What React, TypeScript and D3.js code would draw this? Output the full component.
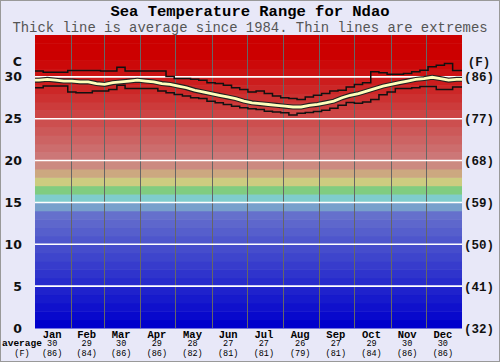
import React, { useEffect, useRef } from 'react';
import * as d3 from 'd3';

// monthly labels and averages
const months = ['Jan', 'Feb', 'Mar', 'Apr', 'May', 'Jun', 'Jul', 'Aug', 'Sep', 'Oct', 'Nov', 'Dec'];
const monthDays = [31, 28, 31, 30, 31, 30, 31, 31, 30, 31, 30, 31];
const monthAvgC = [30, 29, 30, 29, 28, 27, 27, 26, 27, 29, 30, 30];
const monthAvgF = [86, 84, 86, 86, 82, 81, 81, 79, 81, 84, 86, 86];

// weekly values (deg C)
const maxTemps = [
  30.7, 30.55, 30.55, 30.55, 30.75, 30.75, 30.75, 30.75, 30.7, 30.7,
  31.15, 30.7, 30.7, 30.7, 30.7, 30.7, 30.05, 29.8, 29.8, 29.7,
  29.6, 29.3, 29.2, 29.0, 28.7, 28.5, 28.2, 28.3, 28.0, 27.7,
  27.5, 27.4, 27.3, 27.6, 27.8, 28.0, 28.3, 28.4, 28.8, 29.1,
  29.3, 30.6, 30.5, 30.3, 30.3, 30.4, 30.6, 30.8, 31.2, 31.4,
  31.6, 30.75,
];
const avgTemps = [
  29.6, 29.7, 29.6, 29.5, 29.5, 29.4, 29.4, 29.2, 29.1, 29.3,
  29.4, 29.5, 29.6, 29.5, 29.4, 29.2, 29.1, 28.9, 28.7, 28.4,
  28.2, 28.0, 27.8, 27.6, 27.4, 27.1, 26.9, 26.8, 26.7, 26.6,
  26.5, 26.4, 26.4, 26.6, 26.7, 26.9, 27.1, 27.5, 27.8, 28.0,
  28.3, 28.6, 28.9, 29.1, 29.3, 29.5, 29.7, 29.8, 29.95, 29.8,
  29.6, 29.7,
];
const minTemps = [
  28.7, 28.9, 28.9, 28.9, 28.2, 28.1, 28.1, 28.3, 28.3, 28.5,
  29.0, 28.6, 28.6, 28.6, 28.6, 28.3, 28.1, 27.9, 27.7, 27.5,
  27.4, 27.1, 26.9, 26.7, 26.5, 26.3, 26.2, 26.1, 25.9, 25.8,
  25.7, 25.45, 25.65, 25.75, 25.85, 26.0, 26.25, 26.6, 26.95, 26.85,
  27.0, 27.3, 27.85, 28.2, 28.6, 28.6, 28.7, 28.85, 28.85, 28.5,
  28.5, 28.8,
];

const yTicksC = [0, 5, 10, 15, 20, 25, 30];
const yTicksF = ['(32)', '(41)', '(50)', '(59)', '(68)', '(77)', '(86)'];

const W = 500;
const H = 362;
const plot = { left: 35, right: 462, top: 35, bottom: 328 };
const mono = "'Liberation Mono', 'Courier New', monospace";
const sans = "'DejaVu Sans', Verdana, sans-serif";

// colour of the 1-degree band starting at t
const bandColor = (t: number): string => {
  const fixed: Record<number, string> = {
    14: '#78a0cc', 15: '#7fcccc', 16: '#80cc80', 17: '#cccc80', 18: '#cca880', 19: '#cc8a80',
  };
  if (fixed[t]) return fixed[t];
  if (t < 14) return d3.rgb(Math.round(t * 7.8), Math.round(t * 8.6), 204).formatHex();
  const g = Math.max(0, Math.round(119 - (t - 20) * 10));
  return d3.rgb(204, g, g).formatHex();
};

const App: React.FC = () => {
  const svgRef = useRef<SVGSVGElement>(null);

  useEffect(() => {
    const svg = d3.select(svgRef.current);
    svg.selectAll('*').remove();

    const x = d3.scaleLinear().domain([0, 365]).range([plot.left, plot.right]);
    const y = d3.scaleLinear().domain([0, 35]).range([plot.bottom, plot.top]);

    // background + frame
    svg.append('rect').attr('width', W).attr('height', H).attr('fill', '#e8e8f8');
    svg.append('rect')
      .attr('x', 0.5).attr('y', 0.5).attr('width', W - 1).attr('height', H - 1)
      .attr('fill', 'none').attr('stroke', '#999');

    // title
    svg.append('text')
      .attr('x', W / 2).attr('y', 15.5)
      .attr('text-anchor', 'middle')
      .style('font-family', mono).style('font-size', '15.5px').style('font-weight', 'bold')
      .text('Sea Temperature Range for Ndao');
    svg.append('text')
      .attr('x', W / 2).attr('y', 31.5)
      .attr('text-anchor', 'middle')
      .style('font-family', mono).style('font-size', '13.9px').style('fill', '#555')
      .text('Thick line is average since 1984. Thin lines are extremes');

    // colour bands
    const bands = d3.range(0, 35);
    svg.append('g').selectAll('rect')
      .data(bands)
      .enter()
      .append('rect')
      .attr('x', plot.left)
      .attr('width', plot.right - plot.left)
      .attr('y', d => y(d + 1))
      .attr('height', d => y(d) - y(d + 1) + 0.5)
      .attr('fill', d => bandColor(d));

    // month separators
    const bounds = d3.cumsum(monthDays).slice(0, 11);
    svg.append('g').selectAll('line')
      .data(Array.from(bounds))
      .enter()
      .append('line')
      .attr('x1', d => Math.round(x(d)) + 0.5).attr('x2', d => Math.round(x(d)) + 0.5)
      .attr('y1', plot.top).attr('y2', plot.bottom)
      .attr('stroke', '#666').attr('stroke-width', 1);

    // horizontal white grid
    svg.append('g').selectAll('line')
      .data(yTicksC.filter(d => d > 0))
      .enter()
      .append('line')
      .attr('x1', plot.left).attr('x2', plot.right)
      .attr('y1', d => y(d)).attr('y2', d => y(d))
      .attr('stroke', '#fff').attr('stroke-width', 1.6);

    // data lines
    const clip = svg.append('clipPath').attr('id', 'plotclip');
    clip.append('rect')
      .attr('x', plot.left).attr('y', plot.top)
      .attr('width', plot.right - plot.left).attr('height', plot.bottom - plot.top);
    const g = svg.append('g').attr('clip-path', 'url(#plotclip)');

    const stepPts = (vals: number[]): [number, number][] =>
      vals.map((v, i) => [i * 7, v] as [number, number]).concat([[365, vals[vals.length - 1]]]);

    const stepLine = d3.line<[number, number]>()
      .x(d => x(d[0]))
      .y(d => y(d[1]))
      .curve(d3.curveStepAfter);

    [maxTemps, minTemps].forEach(vals => {
      g.append('path')
        .datum(stepPts(vals))
        .attr('fill', 'none')
        .attr('stroke', '#111')
        .attr('stroke-width', 1.5)
        .attr('d', stepLine);
    });

    const avgPts: [number, number][] = [[0, avgTemps[0]]]
      .concat(avgTemps.map((v, i) => [i * 7 + 3.5, v]))
      .concat([[365, avgTemps[avgTemps.length - 1]]]) as [number, number][];
    const avgLine = d3.line<[number, number]>()
      .x(d => x(d[0]))
      .y(d => y(d[1]));

    g.append('path')
      .datum(avgPts)
      .attr('fill', 'none')
      .attr('stroke', '#222')
      .attr('stroke-width', 5)
      .attr('d', avgLine);
    g.append('path')
      .datum(avgPts)
      .attr('fill', 'none')
      .attr('stroke', '#ffffbb')
      .attr('stroke-width', 2.8)
      .attr('d', avgLine);

    // left axis labels
    svg.append('g').selectAll('text')
      .data(yTicksC)
      .enter()
      .append('text')
      .attr('x', 22).attr('y', d => y(d) + 4.5)
      .attr('text-anchor', 'end')
      .style('font-family', sans).style('font-size', '12.5px')
      .style('font-weight', 'bold').style('fill', '#111')
      .text(d => d);
    svg.append('text')
      .attr('x', 22).attr('y', 65.5)
      .attr('text-anchor', 'end')
      .style('font-family', sans).style('font-size', '12.5px')
      .style('font-weight', 'bold').style('fill', '#111')
      .text('C');

    // right axis labels
    svg.append('g').selectAll('text')
      .data(yTicksC)
      .enter()
      .append('text')
      .attr('x', 479).attr('y', (d) => y(d) + 4.5)
      .attr('text-anchor', 'middle')
      .style('font-family', mono).style('font-size', '12.5px')
      .style('font-weight', 'bold').style('fill', '#111')
      .text((_, i) => yTicksF[i]);
    svg.append('text')
      .attr('x', 479).attr('y', 66)
      .attr('text-anchor', 'middle')
      .style('font-family', mono).style('font-size', '12.5px')
      .style('font-weight', 'bold').style('fill', '#111')
      .text('(F)');

    // month labels and averages
    const starts = [0, ...Array.from(bounds)];
    const mid = months.map((_, i) => starts[i] + monthDays[i] / 2);
    const bottom = svg.append('g');
    months.forEach((m, i) => {
      const cx = x(mid[i]) - 1;
      bottom.append('text')
        .attr('x', cx).attr('y', 337.5)
        .attr('text-anchor', 'middle')
        .style('font-family', mono).style('font-size', '10.5px').style('font-weight', 'bold')
        .text(m);
      bottom.append('text')
        .attr('x', cx).attr('y', 346)
        .attr('text-anchor', 'middle')
        .style('font-family', mono).style('font-size', '8.5px')
        .text(monthAvgC[i]);
      bottom.append('text')
        .attr('x', cx).attr('y', 355.5)
        .attr('text-anchor', 'middle')
        .style('font-family', mono).style('font-size', '8.5px')
        .text(`(${monthAvgF[i]})`);
    });
    bottom.append('text')
      .attr('x', 2).attr('y', 346)
      .style('font-family', mono).style('font-size', '9.5px').style('font-weight', 'bold')
      .text('average');
    bottom.append('text')
      .attr('x', 22).attr('y', 355.5)
      .attr('text-anchor', 'middle')
      .style('font-family', mono).style('font-size', '8.5px')
      .text('(F)');
  }, []);

  return (
    <svg
      ref={svgRef}
      width={W}
      height={H}
      style={{ position: 'absolute', left: 0, top: 0, display: 'block' }}
    />
  );
};

export default App;
